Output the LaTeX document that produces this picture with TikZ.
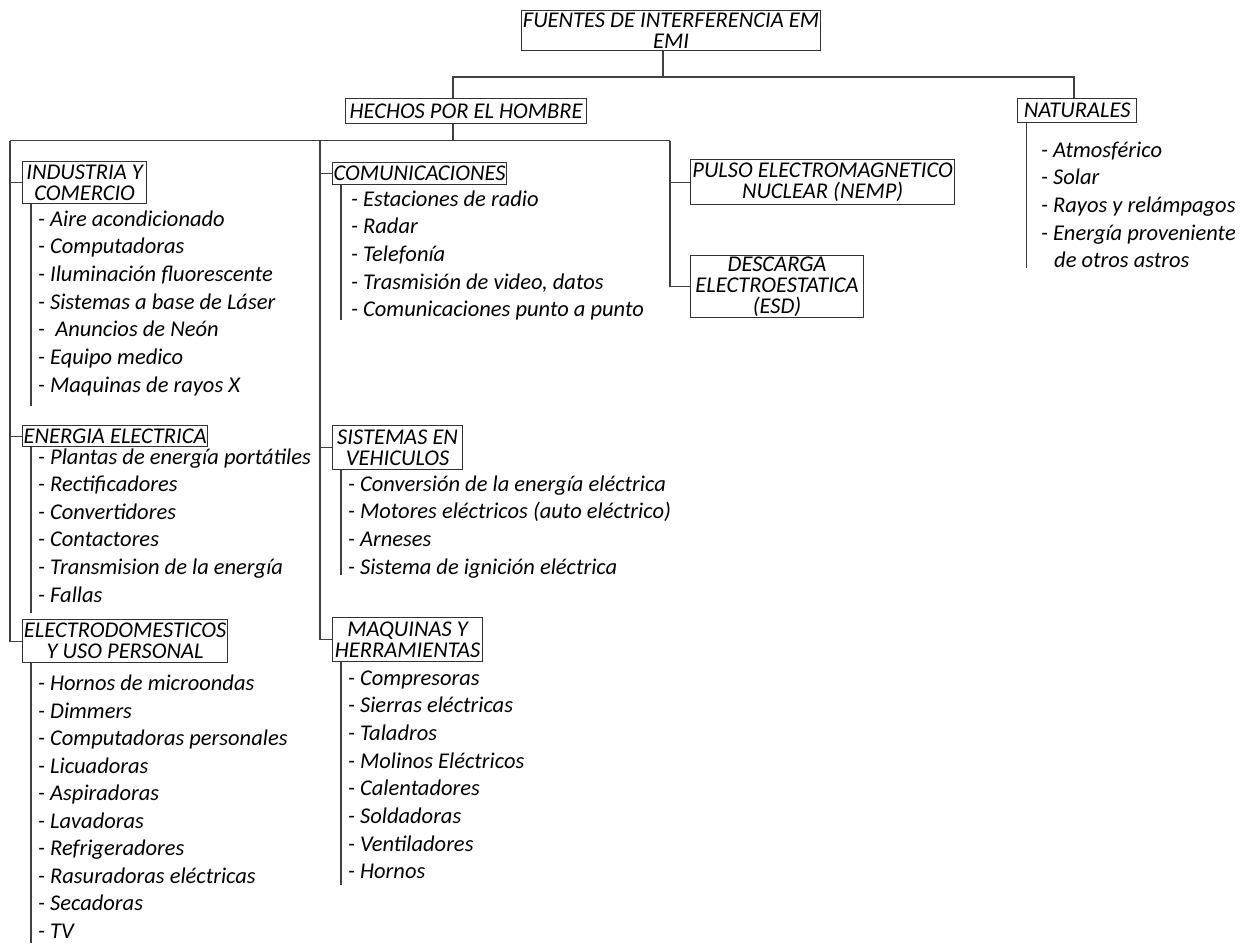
\documentclass[tikz,border=0pt]{standalone}
\usepackage{fontspec}
\setmainfont{Carlito}
\usepackage{tikz}
\newcommand{\entryfont}{\fontsize{22.5}{27.7}\selectfont\itshape}
\newcommand{\boxfont}{\fontsize{22.5}{21}\selectfont\itshape}
\tikzset{
  box/.style={draw=black!80, line width=1.2pt, anchor=north west, align=center, inner sep=0pt, font=\boxfont},
  entry/.style={anchor=base west, inner sep=0pt, font=\entryfont},
  conn/.style={draw=black!75, line width=1.2pt}
}

\begin{document}
\begin{tikzpicture}[x=1pt, y=-1pt]
			%%%%% START %%%%%
			\useasboundingbox (0, 0) rectangle (1248, 943);
			
			\node[box, minimum width=299pt, minimum height=40pt] (fuentes) at (521, 10) {FUENTES DE INTERFERENCIA EM\\EMI};
			\node[box, minimum width=241pt, minimum height=24.5pt] (hechos) at (345, 98) {HECHOS POR EL HOMBRE};
			\node[box, minimum width=119pt, minimum height=24pt] (naturales) at (1017, 98) {NATURALES};
			
			\coordinate (busm) at (663, 77);
			\coordinate (busl) at (453, 77);
			\coordinate (busr) at (1074, 77);
			\draw[conn] (fuentes.south -| busm) -- (busm);
			\draw[conn] (hechos.north -| busl) -- (busl) -- (busr) -- (naturales.north -| busr);
			
			%%%%% HECHOS POR EL HOMBRE %%%%%
			\node[box, minimum width=124pt, minimum height=42pt] (industria) at (22, 161) {INDUSTRIA Y\\COMERCIO};
			\node[box, minimum width=185pt, minimum height=21pt] (energia) at (22, 425) {ENERGIA ELECTRICA};
			\node[box, minimum width=205pt, minimum height=43pt] (electro) at (22, 619) {ELECTRODOMESTICOS\\Y USO PERSONAL};
			\node[box, minimum width=174pt, minimum height=22pt] (comunic) at (332, 162) {COMUNICACIONES};
			\node[box, minimum width=130pt, minimum height=44pt] (vehic) at (332, 425) {SISTEMAS EN\\VEHICULOS};
			\node[box, minimum width=150pt, minimum height=44pt] (maquinas) at (332, 617) {MAQUINAS Y\\HERRAMIENTAS};
			\node[box, minimum width=264pt, minimum height=45pt] (pulso) at (690, 159) {PULSO ELECTROMAGNETICO\\NUCLEAR (NEMP)};
			\node[box, minimum width=173pt, minimum height=62pt] (descarga) at (690, 255) {DESCARGA\\ELECTROESTATICA\\(ESD)};
			
			\coordinate (bush) at (453, 140.5);
			\coordinate (busa) at (10, 140.5);
			\coordinate (busb) at (320, 140.5);
			\coordinate (busc) at (670, 140.5);
			\draw[conn] (hechos.south -| bush) -- (bush);
			\draw[conn] (busa) -- (busc);
			\draw[conn] (busa) |- (industria.west);
			\draw[conn] (busa) |- (energia.west);
			\draw[conn] (busa) |- (electro.west);
			\draw[conn] (busb) |- (comunic.west);
			\draw[conn] (busb) |- (vehic.west);
			\draw[conn] (busb) |- (maquinas.west);
			\draw[conn] (busc) |- (pulso.west);
			\draw[conn] (busc) |- (descarga.west);
			
			%%%%% LISTS %%%%%
			\coordinate (indend) at (31, 406);
			\coordinate (eneend) at (31, 613);
			\coordinate (eleend) at (31, 943);
			\coordinate (comend) at (341, 320);
			\coordinate (vehend) at (341, 575);
			\coordinate (maqend) at (341, 885);
			\coordinate (natend) at (1026.5, 268);
			\draw[conn] (industria.south -| indend) -- (indend);
			\draw[conn] (energia.south -| eneend) -- (eneend);
			\draw[conn] (electro.south -| eleend) -- (eleend);
			\draw[conn] (comunic.south -| comend) -- (comend);
			\draw[conn] (vehic.south -| vehend) -- (vehend);
			\draw[conn] (maquinas.south -| maqend) -- (maqend);
			\draw[conn] (naturales.south -| natend) -- (natend);
			
			\node[entry] (ind1) at (38, 226) {- Aire acondicionado};
			\node[entry] (ind2) at (38, 253.7) {- Computadoras};
			\node[entry] (ind3) at (38, 281.4) {- Iluminación fluorescente};
			\node[entry] (ind4) at (38, 309.1) {- Sistemas a base de Láser};
			\node[entry] (ind5) at (38, 336.8) {-\ \ Anuncios de Neón};
			\node[entry] (ind6) at (38, 364.5) {- Equipo medico};
			\node[entry] (ind7) at (38, 392.2) {- Maquinas de rayos X};
			
			\node[entry] (ene1) at (38, 464) {- Plantas de energía portátiles};
			\node[entry] (ene2) at (38, 491.6) {- Rectificadores};
			\node[entry] (ene3) at (38, 519.2) {- Convertidores};
			\node[entry] (ene4) at (38, 546.8) {- Contactores};
			\node[entry] (ene5) at (38, 574.4) {- Transmision de la energía};
			\node[entry] (ene6) at (38, 602) {- Fallas};
			
			\node[entry] (ele1) at (38, 690.5) {- Hornos de microondas};
			\node[entry] (ele2) at (38, 718) {- Dimmers};
			\node[entry] (ele3) at (38, 745.5) {- Computadoras personales};
			\node[entry] (ele4) at (38, 773) {- Licuadoras};
			\node[entry] (ele5) at (38, 800.5) {- Aspiradoras};
			\node[entry] (ele6) at (38, 828) {- Lavadoras};
			\node[entry] (ele7) at (38, 855.5) {- Refrigeradores};
			\node[entry] (ele8) at (38, 883) {- Rasuradoras eléctricas};
			\node[entry] (ele9) at (38, 910.5) {- Secadoras};
			\node[entry] (ele10) at (38, 938) {- TV};
			
			\node[entry] (com1) at (351, 206) {- Estaciones de radio};
			\node[entry] (com2) at (351, 233.7) {- Radar};
			\node[entry] (com3) at (351, 261.4) {- Telefonía};
			\node[entry] (com4) at (351, 289.1) {- Trasmisión de video, datos};
			\node[entry] (com5) at (351, 316.8) {- Comunicaciones punto a punto};
			
			\node[entry] (veh1) at (348, 491) {- Conversión de la energía eléctrica};
			\node[entry] (veh2) at (348, 518.7) {- Motores eléctricos (auto eléctrico)};
			\node[entry] (veh3) at (348, 546.4) {- Arneses};
			\node[entry] (veh4) at (348, 574.1) {- Sistema de ignición eléctrica};
			
			\node[entry] (maq1) at (348, 685) {- Compresoras};
			\node[entry] (maq2) at (348, 712.7) {- Sierras eléctricas};
			\node[entry] (maq3) at (348, 740.4) {- Taladros};
			\node[entry] (maq4) at (348, 768.1) {- Molinos Eléctricos};
			\node[entry] (maq5) at (348, 795.8) {- Calentadores};
			\node[entry] (maq6) at (348, 823.5) {- Soldadoras};
			\node[entry] (maq7) at (348, 851.2) {- Ventiladores};
			\node[entry] (maq8) at (348, 878.9) {- Hornos};
			
			%%%%% NATURALES %%%%%
			\node[entry] (nat1) at (1041, 157) {- Atmosférico};
			\node[entry] (nat2) at (1041, 184.7) {- Solar};
			\node[entry] (nat3) at (1041, 212.4) {- Rayos y relámpagos};
			\node[entry] (nat4) at (1041, 240.1) {- Energía proveniente};
			\node[entry] (nat5) at (1054, 267.8) {de otros astros};
			
			%%%%% END %%%%%
		\end{tikzpicture}
\end{document}
